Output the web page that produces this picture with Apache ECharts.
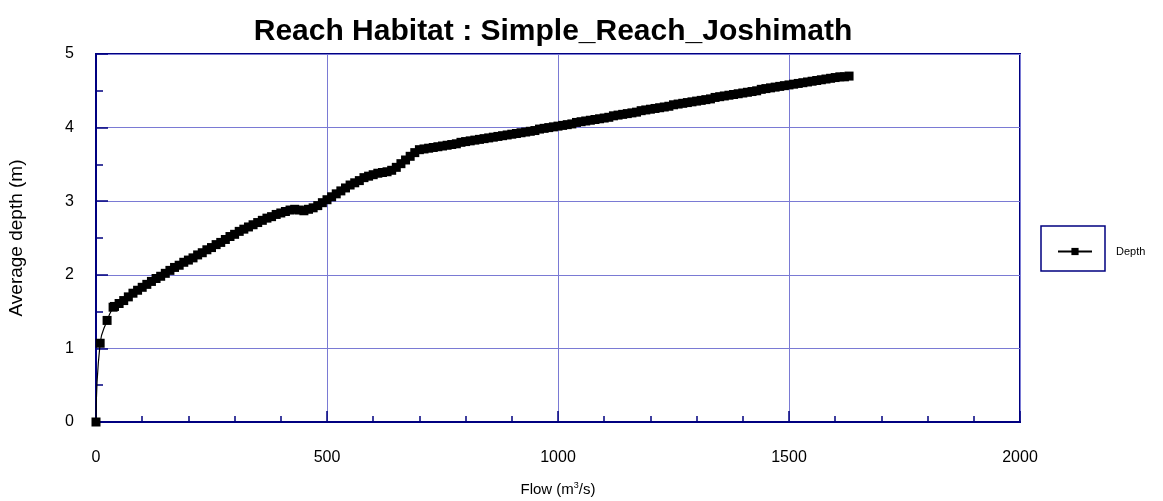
<!DOCTYPE html>
<html><head><meta charset="utf-8">
<script src="https://cdn.jsdelivr.net/npm/echarts@6/dist/echarts.min.js"></script>
<style>html,body{margin:0;padding:0;background:#fff}#c{width:1163px;height:501px}</style>
</head><body><div id="c"></div>
<script>
const titleText = 'Reach Habitat : Simple_Reach_Joshimath';
const seriesName = 'Depth';
const flow = [0, 9, 24, 37, 40, 50, 60, 70, 80, 90, 100, 110, 120, 130, 140, 150, 160, 170, 180, 190, 200,
  210, 220, 230, 240, 250, 260, 270, 280, 290, 300, 310, 320, 330, 340, 350, 360, 370, 380, 390, 400,
  410, 420, 430, 440, 450, 460, 470, 480, 490, 500, 510, 520, 530, 540, 550, 560, 570, 580, 590, 600,
  610, 620, 630, 640, 650, 660, 670, 680, 690, 700, 710, 720, 730, 740, 750, 760, 770, 780, 790, 800,
  810, 820, 830, 840, 850, 860, 870, 880, 890, 900, 910, 920, 930, 940, 950, 960, 970, 980, 990, 1000,
  1010, 1020, 1030, 1040, 1050, 1060, 1070, 1080, 1090, 1100, 1110, 1120, 1130, 1140, 1150, 1160, 1170, 1180, 1190, 1200,
  1210, 1220, 1230, 1240, 1250, 1260, 1270, 1280, 1290, 1300, 1310, 1320, 1330, 1340, 1350, 1360, 1370, 1380, 1390, 1400,
  1410, 1420, 1430, 1440, 1450, 1460, 1470, 1480, 1490, 1500, 1510, 1520, 1530, 1540, 1550, 1560, 1570, 1580, 1590, 1600,
  1610, 1620, 1630];
const depth = [0, 1.07, 1.38, 1.56, 1.57, 1.61, 1.65, 1.70, 1.75, 1.79, 1.83, 1.87, 1.91, 1.95, 1.98, 2.02, 2.06, 2.10, 2.13, 2.17, 2.20,
  2.23, 2.27, 2.30, 2.34, 2.37, 2.41, 2.44, 2.48, 2.52, 2.55, 2.59, 2.62, 2.65, 2.68, 2.71, 2.74, 2.77, 2.79, 2.82, 2.84,
  2.86, 2.88, 2.89, 2.88, 2.87, 2.89, 2.91, 2.94, 2.98, 3.02, 3.06, 3.10, 3.14, 3.18, 3.22, 3.25, 3.28, 3.32, 3.34, 3.36,
  3.38, 3.39, 3.40, 3.42, 3.46, 3.51, 3.56, 3.61, 3.66, 3.70, 3.71, 3.72, 3.73, 3.74, 3.75, 3.76, 3.77, 3.78, 3.80, 3.81,
  3.82, 3.83, 3.84, 3.85, 3.86, 3.87, 3.88, 3.89, 3.90, 3.91, 3.92, 3.93, 3.94, 3.95, 3.96, 3.98, 3.99, 4.00, 4.01, 4.02,
  4.03, 4.04, 4.05, 4.07, 4.08, 4.09, 4.10, 4.11, 4.12, 4.13, 4.14, 4.16, 4.17, 4.18, 4.19, 4.20, 4.21, 4.23, 4.24, 4.25,
  4.26, 4.27, 4.28, 4.29, 4.31, 4.32, 4.33, 4.34, 4.35, 4.36, 4.37, 4.38, 4.39, 4.41, 4.42, 4.43, 4.44, 4.45, 4.46, 4.47,
  4.48, 4.49, 4.50, 4.52, 4.53, 4.54, 4.55, 4.56, 4.57, 4.58, 4.59, 4.60, 4.61, 4.62, 4.63, 4.64, 4.65, 4.66, 4.67, 4.68,
  4.69, 4.69, 4.70];

const navy = '#000080';
const gridCol = '#7a7ad4';
const font = '"Liberation Sans", Arial, sans-serif';
const chart = echarts.init(document.getElementById('c'));
chart.setOption({
  animation: false,
  backgroundColor: '#fff',
  title: {
    text: titleText, left: 548, top: 12, textAlign: 'center',
    textStyle: { fontFamily: font, fontWeight: 'bold', fontSize: 30, color: '#000' }
  },
  grid: { left: 96, right: 143, top: 54, bottom: 79, outerBoundsMode: 'none', containLabel: false, show: true, borderColor: navy, borderWidth: 2, backgroundColor: '#fff' },
  legend: {
    left: 1052, top: 241, itemWidth: 34, itemHeight: 9,
    data: [seriesName],
    textStyle: { fontFamily: font, fontSize: 11, color: '#000', padding: [0, 0, 0, 19] }
  },
  graphic: [{ type: 'rect', shape: { x: 1041, y: 226, width: 64, height: 45 }, style: { fill: 'none', stroke: navy, lineWidth: 1.5 } }],
  xAxis: {
    type: 'value', min: 0, max: 2000, interval: 500,
    name: 'Flow (m{sup|3}/s)', nameLocation: 'middle', nameGap: 59,
    nameTextStyle: { fontFamily: font, fontSize: 15, color: '#000', rich: { sup: { fontSize: 9, verticalAlign: 'top', padding: [0, 0, 9, 0], fontFamily: font, color: '#000' } } },
    axisLine: { lineStyle: { color: navy, width: 2 } },
    axisTick: { inside: true, length: 11, lineStyle: { color: navy, width: 1.5 } },
    minorTick: { show: true, splitNumber: 5, length: 6, lineStyle: { color: navy, width: 1.5 } },
    axisLabel: { margin: 28, fontFamily: font, fontSize: 16, color: '#000', formatter: v => String(v) },
    splitLine: { show: true, lineStyle: { color: gridCol, width: 1 } }
  },
  yAxis: {
    type: 'value', min: 0, max: 5, interval: 1,
    name: 'Average depth (m)', nameLocation: 'middle', nameGap: 70,
    nameTextStyle: { fontFamily: font, fontSize: 19, color: '#000' },
    axisLine: { lineStyle: { color: navy, width: 2 } },
    axisTick: { inside: true, length: 12, lineStyle: { color: navy, width: 1.5 } },
    minorTick: { show: true, splitNumber: 2, length: 7, lineStyle: { color: navy, width: 1.5 } },
    axisLabel: { margin: 22, fontFamily: font, fontSize: 16, color: '#000', formatter: v => String(v) },
    splitLine: { show: true, lineStyle: { color: gridCol, width: 1 } }
  },
  series: [{
    name: seriesName, type: 'line', smooth: true,
    data: flow.map((f, i) => [f, depth[i]]),
    symbol: 'rect', symbolSize: 9, showAllSymbol: true,
    itemStyle: { color: '#000' },
    lineStyle: { color: '#000', width: 1.2 }
  }]
});
</script></body></html>
